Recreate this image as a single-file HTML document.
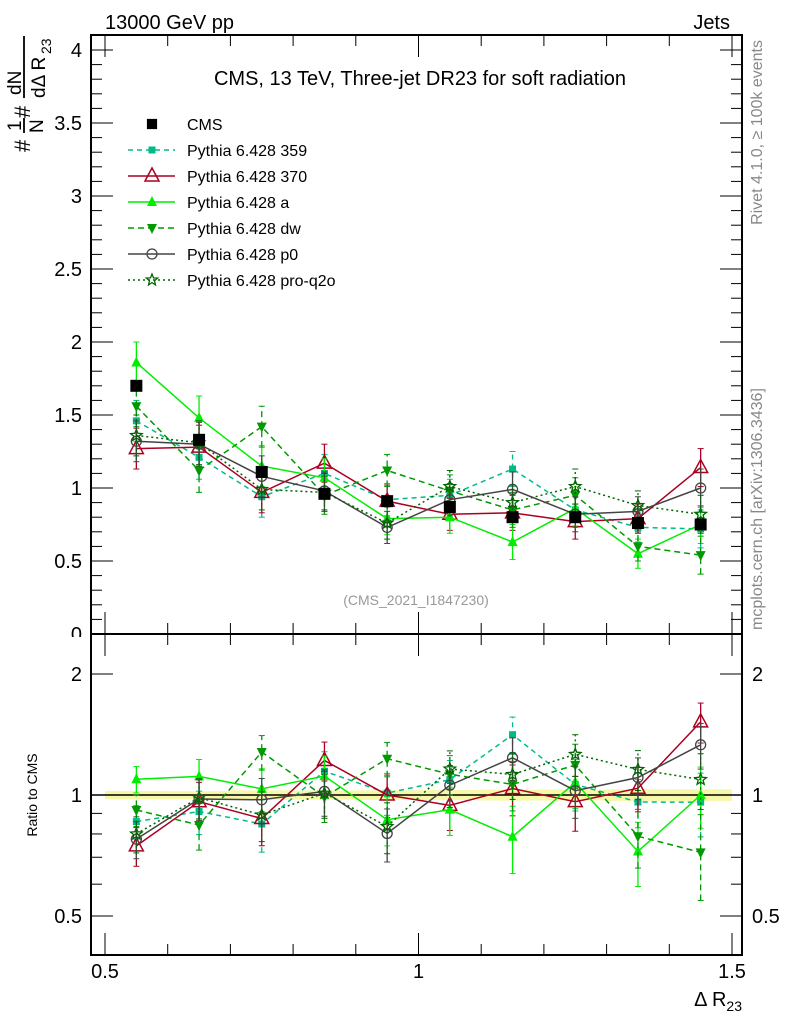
<!DOCTYPE html>
<html><head><meta charset="utf-8"><style>
body{margin:0;background:#fff}
svg{display:block;font-family:"Liberation Sans",sans-serif}
</style></head><body>
<svg id="c" width="786" height="1024" xmlns="http://www.w3.org/2000/svg">
<text x="105" y="29" font-size="20">13000 GeV pp</text>
<text x="730" y="29" font-size="20" text-anchor="end">Jets</text>
<text transform="translate(762,40) rotate(-90)" font-size="16" fill="#888" text-anchor="end">Rivet 4.1.0, ≥ 100k events</text>
<text transform="translate(762,630) rotate(-90)" font-size="16" fill="#888">mcplots.cern.ch [arXiv:1306.3436]</text>
<text x="420" y="85" font-size="20" text-anchor="middle">CMS, 13 TeV, Three-jet DR23 for soft radiation</text>
<text x="416" y="605" font-size="14" fill="#999" text-anchor="middle">(CMS_2021_I1847230)</text>
<g font-size="22">
<text transform="translate(30,152) rotate(-90)">#</text>
<text transform="translate(21,131) rotate(-90)" font-size="19">1</text>
<line x1="24" y1="133" x2="24" y2="118" stroke="#000" stroke-width="1.8"/>
<text transform="translate(43,133) rotate(-90)" font-size="19">N</text>
<text transform="translate(30,118) rotate(-90)">#</text>
<text transform="translate(21,95) rotate(-90)" font-size="19">dN</text>
<line x1="24" y1="98" x2="24" y2="36" stroke="#000" stroke-width="1.8"/>
<text transform="translate(45,98) rotate(-90)" font-size="19">dΔ R</text>
<text transform="translate(51,54) rotate(-90)" font-size="14">23</text>
</g>
<text transform="translate(37,795) rotate(-90)" font-size="14" text-anchor="middle">Ratio to CMS</text>
<text x="742" y="1006" font-size="20" text-anchor="end">Δ R<tspan font-size="14" dy="5">23</tspan></text>
<g id="band"></g><g id="grid"></g><g id="marks"></g><g id="legend"></g>
</svg>
<script>
const bins=[0.55,0.65,0.75,0.85,0.95,1.05,1.15,1.25,1.35,1.45];
const cms=[1.70,1.33,1.11,0.96,0.91,0.87,0.80,0.80,0.76,0.75];
const cmsErr=[0.04,0.03,0.03,0.025,0.025,0.025,0.025,0.025,0.025,0.025];
const p359=[1.46,1.21,0.94,1.10,0.92,0.95,1.13,0.85,0.73,0.72];
const p370=[1.27,1.28,0.97,1.17,0.91,0.82,0.83,0.77,0.79,1.14];
const pa=[1.86,1.48,1.15,1.07,0.79,0.80,0.63,0.86,0.55,0.75];
const pdw=[1.56,1.12,1.42,0.95,1.12,0.98,0.85,0.95,0.60,0.54];
const pp0=[1.32,1.30,1.08,0.98,0.73,0.92,0.99,0.82,0.84,1.00];
const pq2o=[1.36,1.31,0.99,0.97,0.76,1.01,0.90,1.01,0.88,0.82];
const mcErr=[0.14,0.15,0.14,0.13,0.11,0.11,0.12,0.12,0.10,0.13];
const yTicks=[0,0.5,1,1.5,2,2.5,3,3.5,4];
const rTicks=[0.5,1,2];
const xTicks=[0.5,1,1.5];
const series=[
 {name:'Pythia 6.428 359',v:p359,c:'#00bb88',d:'5,4',m:'sq-s'},
 {name:'Pythia 6.428 370',v:p370,c:'#aa0022',d:'',m:'tri-o'},
 {name:'Pythia 6.428 a',v:pa,c:'#00ee00',d:'',m:'tri'},
 {name:'Pythia 6.428 dw',v:pdw,c:'#009900',d:'6,4',m:'tri-d'},
 {name:'Pythia 6.428 p0',v:pp0,c:'#444',d:'',m:'circ'},
 {name:'Pythia 6.428 pro-q2o',v:pq2o,c:'#006600',d:'2,3',m:'star'}];
const L=91,R=742,T=35,M=634,B=955;
const X=v=>105+(v-0.5)*627;
const Y=v=>634-v*146;
const RY=v=>795-Math.log2(v)*121;
const NS='http://www.w3.org/2000/svg';
function el(t,a,p){const e=document.createElementNS(NS,t);for(const k in a)e.setAttribute(k,a[k]);(p||document.getElementById('marks')).appendChild(e);return e;}
const g=document.getElementById('grid');
let f=el('rect',{x:L,y:T,width:R-L,height:M-T,fill:'none',stroke:'#000','stroke-width':2},g);


f=el('rect',{x:L,y:M,width:R-L,height:B-M,fill:'none',stroke:'#000','stroke-width':2},g);


for(let i=0;i<=41;i++){const v=i/10,y=Y(v),maj=i%5==0,len=maj?22:11;
 el('line',{x1:L,y1:y,x2:L+len,y2:y,stroke:'#000'},g);el('line',{x1:R,y1:y,x2:R-len,y2:y,stroke:'#000'},g);}
yTicks.forEach(v=>{const t=el('text',{x:82,y:Y(v)+7,'font-size':20,'text-anchor':'end'},g);t.textContent=v;
 
 });
el('rect',{x:55,y:637,width:34,height:20,fill:'#fff'},g);
[0.4,0.5,0.6,0.7,0.8,0.9,1,2].forEach(v=>{const maj=rTicks.includes(v),len=maj?22:11,y=RY(v);
 el('line',{x1:L,y1:y,x2:L+len,y2:y,stroke:'#000'},g);el('line',{x1:R,y1:y,x2:R-len,y2:y,stroke:'#000'},g);});
rTicks.forEach(v=>{[[82,'end'],[752,'start']].forEach(([x,a])=>{const t=el('text',{x:x,y:RY(v)+7,'font-size':20,'text-anchor':a},g);t.textContent=v;
 
 });});
for(let i=0;i<=10;i++){const v=0.5+i/10,x=X(v),maj=i%5==0,len=maj?22:11;
 [[B,-1],[M,-1],[M,1],[T,1]].forEach(([y0,s])=>el('line',{x1:x,y1:y0,x2:x,y2:y0+s*len,stroke:'#000'},g));}
xTicks.forEach(v=>{const t=el('text',{x:X(v),y:978,'font-size':20,'text-anchor':'middle'},g);t.textContent=v;
 
 });
el('line',{x1:L,y1:RY(1),x2:R,y2:RY(1),stroke:'#000','stroke-width':1.5},g);
const bd=document.getElementById('band');
bins.forEach((b,i)=>{const r=cmsErr[i]/cms[i];const rc=el('rect',{x:X(b-0.05),y:RY(1+r),width:X(b+0.05)-X(b-0.05),height:RY(1-r)-RY(1+r),fill:'#f7f7a8'},bd);
 
 });
function marker(m,x,y,c,s){
 s=s||1;
 if(m=='sq')return el('rect',{x:x-6*s,y:y-6*s,width:12*s,height:12*s,fill:'#000'});
 if(m=='sq-s')return el('rect',{x:x-3.5*s,y:y-3.5*s,width:7*s,height:7*s,fill:c});
 if(m=='tri-o')return el('polygon',{points:`${x},${y-8*s} ${x-7*s},${y+5*s} ${x+7*s},${y+5*s}`,fill:'none',stroke:c,'stroke-width':1.5});
 if(m=='tri')return el('polygon',{points:`${x},${y-6*s} ${x-5*s},${y+4*s} ${x+5*s},${y+4*s}`,fill:c});
 if(m=='tri-d')return el('polygon',{points:`${x},${y+6*s} ${x-5*s},${y-4*s} ${x+5*s},${y-4*s}`,fill:c});
 if(m=='circ')return el('circle',{cx:x,cy:y,r:5*s,fill:'none',stroke:c,'stroke-width':1.3});
 if(m=='star'){let p=[];for(let k=0;k<10;k++){const r=k%2?2.6*s:6*s,a=-Math.PI/2+k*Math.PI/5;p.push((x+r*Math.cos(a)).toFixed(1)+','+(y+r*Math.sin(a)).toFixed(1));}
  return el('polygon',{points:p.join(' '),fill:'none',stroke:c,'stroke-width':1.3});}
}
series.forEach((s,si)=>{
 [[Y,s.v.map(v=>v)],[RY,s.v.map((v,i)=>v/cms[i])]].forEach(([yf,vals],pi)=>{
  const pts=bins.map((b,i)=>X(b)+','+yf(vals[i])).join(' ');
  const pl=el('polyline',{points:pts,fill:'none',stroke:s.c,'stroke-width':1.5,'stroke-dasharray':s.d});
  
  
  bins.forEach((b,i)=>{const e=mcErr[i]*(pi?1/cms[i]:1);const x=X(b),y1=yf(vals[i]-e),y2=yf(vals[i]+e);
   el('line',{x1:x,y1:y1,x2:x,y2:y2,stroke:s.c,'stroke-width':1.3,'stroke-dasharray':s.d});
   el('line',{x1:x-3,y1:y1,x2:x+3,y2:y1,stroke:s.c});el('line',{x1:x-3,y1:y2,x2:x+3,y2:y2,stroke:s.c});
   const mk=marker(s.m,x,yf(vals[i]),s.c);
   
   });
 });
});
bins.forEach((b,i)=>{const x=X(b);el('line',{x1:x,y1:Y(cms[i]-cmsErr[i]),x2:x,y2:Y(cms[i]+cmsErr[i]),stroke:'#000'});
 const mk=marker('sq',x,Y(cms[i]));
 
 });
const lg=document.getElementById('legend');
const ent=[{name:'CMS',m:'sq',c:'#000',d:null}].concat(series);
ent.forEach((s,i)=>{const y=124+i*26;
 if(s.d!==null)el('line',{x1:128,y1:y,x2:175,y2:y,stroke:s.c,'stroke-width':1.5,'stroke-dasharray':s.d},lg);
 const mk=marker(s.m,152,y,s.c,s.m=='sq'?0.85:1);lg.appendChild(mk);
 const t=el('text',{x:187,y:y+6,'font-size':16},lg);t.textContent=s.name;
 
 });
</script>
</body></html>
